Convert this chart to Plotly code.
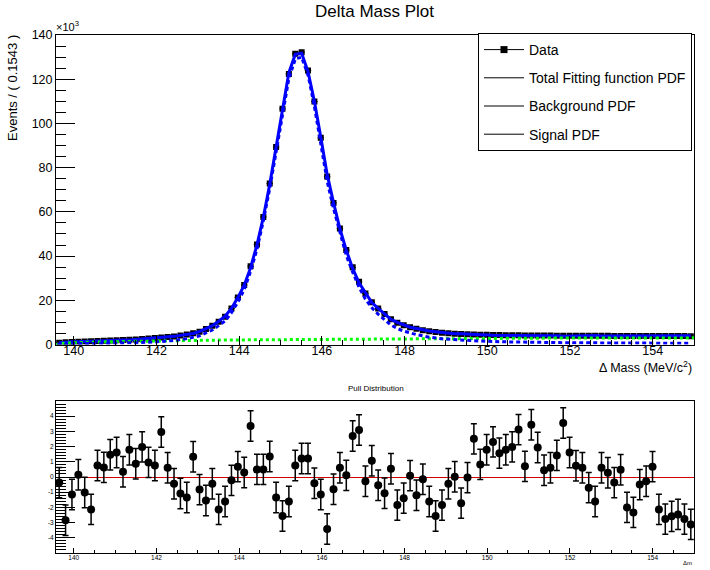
import numpy as np
import plotly.graph_objects as go

# ---------------- data ----------------
x_min, x_max = 139.57, 155.0
n_bins = 100

# events per bin (thousands)
counts_k = [
    0.80, 1.00, 1.15, 1.30, 1.40, 1.50, 1.60, 1.70, 1.80, 1.90,
    2.00, 2.15, 2.30, 2.50, 2.70, 2.90, 3.15, 3.40, 3.65, 4.05,
    4.50, 5.10, 5.80, 7.00, 8.50, 10.30, 12.60, 16.30, 21.30, 26.90,
    35.40, 45.20, 57.70, 72.80, 89.30, 106.60, 122.40, 131.50, 132.20, 123.90,
    109.90, 93.50, 76.00, 64.00, 52.50, 42.70, 34.90, 28.40, 23.10, 19.10,
    16.30, 13.80, 11.40, 9.80, 8.70, 7.80, 7.10, 6.50, 6.00, 5.60,
    5.30, 5.05, 4.85, 4.70, 4.60, 4.50, 4.42, 4.36, 4.30, 4.25,
    4.20, 4.16, 4.13, 4.10, 4.08, 4.06, 4.04, 4.02, 4.00, 3.98,
    3.97, 3.96, 3.95, 3.94, 3.93, 3.92, 3.91, 3.90, 3.89, 3.88,
    3.87, 3.86, 3.85, 3.84, 3.83, 3.82, 3.81, 3.80, 3.79, 3.78,
]

# pull per bin
pulls = [
    -0.37, -2.85, -1.15, 0.15, -1.02, -2.13, 0.76, 0.63, 1.46, 1.61,
    0.35, 1.79, 0.87, 1.98, 0.96, 0.76, 2.96, 0.61, -0.44, -1.09,
    -1.35, 1.33, -0.83, -1.55, -0.44, -2.13, -1.61, -0.22, 0.68, 0.30,
    3.36, 0.50, 0.50, 1.35, -1.35, -2.57, -1.61, 0.76, 1.22, 1.22,
    -0.41, -1.15, -3.42, -0.81, 0.61, 0.11, 2.70, 3.09, -0.28, 1.07,
    -0.54, -1.07, 0.54, -1.85, -1.39, 0.09, -1.20, -0.15, -1.61, -2.57,
    -1.85, -0.44, 0.02, -1.72, -0.04, 2.51, 0.83, 1.79, 2.31, 1.57,
    1.79, 1.98, 3.12, 0.70, 3.44, 1.94, 0.44, 0.61, 1.42, 3.55,
    1.61, 0.74, 0.61, -0.70, -1.61, 0.61, 0.28, -0.37, 0.48, -2.00,
    -2.33, -0.50, -0.28, 0.68, -2.13, -2.77, -2.59, -2.46, -2.77, -3.12,
]

# background PDF (thousands)
bkg_x = [139.57, 139.62, 139.70, 139.85, 140.0, 140.3, 140.7, 141.2, 141.8, 142.5,
         143.3, 144.2, 145.2, 146.3, 147.5, 148.7, 150.0, 151.5, 153.0, 155.0]
bkg_k = [0.0, 0.30, 0.50, 0.70, 0.85, 1.00, 1.20, 1.40, 1.60, 1.80,
         1.95, 2.10, 2.25, 2.40, 2.55, 2.70, 2.80, 2.90, 2.95, 3.00]

# signal PDF (thousands)
sig_x = [139.60, 139.80, 140.11, 140.5, 141.03, 141.5, 141.96, 142.42, 142.73, 143.04,
         143.35, 143.66, 143.81, 143.97, 144.12, 144.28, 144.43, 144.58, 144.74, 144.89,
         145.05, 145.20, 145.36, 145.51, 145.67, 145.82, 145.97, 146.13, 146.28, 146.44,
         146.59, 146.75, 146.90, 147.05, 147.21, 147.36, 147.52, 147.67, 147.83, 147.98,
         148.29, 148.60, 148.91, 149.37, 149.83, 150.45, 151.22, 151.99, 153.53, 154.92]
sig_k = [0.10, 0.35, 0.45, 0.50, 0.57, 0.80, 1.15, 1.80, 2.65, 3.90,
         6.55, 10.6, 14.3, 19.25, 24.8, 33.3, 43.05, 55.55, 70.6, 87.1,
         104.4, 120.15, 129.25, 129.95, 121.6, 107.6, 91.2, 73.65, 61.65, 50.1,
         40.3, 32.5, 25.95, 20.6, 16.6, 13.75, 11.25, 8.8, 7.2, 6.05,
         4.45, 3.3, 2.55, 1.9, 1.55, 1.2, 0.95, 0.8, 0.65, 0.55]

legend_names = ["Data", "Total Fitting function PDF", "Background PDF", "Signal PDF"]

# ---------------- derived ----------------
bin_width = (x_max - x_min) / n_bins
centers = x_min + bin_width * (np.arange(n_bins) + 0.5)
counts = np.array(counts_k) * 1000.0
errs = np.sqrt(counts)
total_fit = counts - np.array(pulls) * errs   # fit implied by data and pulls

FONT = "Liberation Sans, Arial, Helvetica, sans-serif"
BLUE = "#0000ff"
GREEN = "#00ff00"

W, H = 710, 570
ML, MR, MT, MB = 56, 16, 35, 17
PW, PH = W - ML - MR, H - MT - MB


def px(xp):
    return (xp - ML) / PW


def py(yp):
    return (H - MB - yp) / PH


fig = go.Figure()

# data points
fig.add_trace(go.Scatter(
    x=centers, y=counts / 1000.0, mode="markers",
    marker=dict(symbol="square", size=6, color="black"),
    error_x=dict(type="constant", value=bin_width / 2, color="black", thickness=1, width=0),
    error_y=dict(type="data", array=errs / 1000.0, color="black", thickness=1, width=0),
    showlegend=False, xaxis="x", yaxis="y"))

# total fit
fig.add_trace(go.Scatter(
    x=centers, y=total_fit / 1000.0, mode="lines",
    line=dict(color=BLUE, width=3), showlegend=False, xaxis="x", yaxis="y"))

# background
fig.add_trace(go.Scatter(
    x=bkg_x, y=bkg_k, mode="lines",
    line=dict(color=GREEN, width=3, dash="3px,3px"), showlegend=False, xaxis="x", yaxis="y"))

# signal
fig.add_trace(go.Scatter(
    x=sig_x, y=sig_k, mode="lines",
    line=dict(color=BLUE, width=3, dash="4px,3px"), showlegend=False, xaxis="x", yaxis="y"))

# legend entries (drawn black as in the reference)
for i, name in enumerate(legend_names):
    if i == 0:
        fig.add_trace(go.Scatter(
            x=[None], y=[None], mode="lines+markers", name=name,
            marker=dict(symbol="square", size=7, color="black"),
            line=dict(color="black", width=1), legendgroup=f"g{i}",
            xaxis="x", yaxis="y"))
    else:
        fig.add_trace(go.Scatter(
            x=[None], y=[None], mode="lines", name=name,
            line=dict(color="black", width=1), legendgroup=f"g{i}",
            xaxis="x", yaxis="y"))

# pull distribution
fig.add_trace(go.Scatter(
    x=centers, y=pulls, mode="markers",
    marker=dict(symbol="circle", size=8, color="black"),
    error_y=dict(type="constant", value=1.0, color="black", thickness=1.5, width=3),
    showlegend=False, xaxis="x2", yaxis="y2"))

main_bottom = py(344.5)
pull_top = py(401)

axis_common = dict(
    showline=True, mirror=True, linecolor="black", linewidth=1,
    showgrid=False, zeroline=False, ticks="inside", tickcolor="black",
    tickwidth=1, automargin=False,
)

fig.update_layout(
    width=W, height=H,
    margin=dict(l=ML, r=MR, t=MT, b=MB, pad=0),
    paper_bgcolor="white", plot_bgcolor="white",
    font=dict(family=FONT, color="black"),
    hovermode=False,
    xaxis=dict(domain=[0, 1], range=[x_min, x_max], anchor="y",
               tick0=140, dtick=2, ticklen=9, ticklabelstandoff=-6,
               minor=dict(dtick=0.5, tick0=140, ticklen=5, ticks="inside", tickcolor="black"),
               tickfont=dict(size=12.5, family=FONT, color="black"), **axis_common),
    yaxis=dict(domain=[main_bottom, 1], range=[0, 140], anchor="x",
               tick0=0, dtick=20, ticklen=19,
               minor=dict(dtick=5, ticklen=10, ticks="inside", tickcolor="black"),
               tickfont=dict(size=12.5, family=FONT, color="black"), **axis_common),
    xaxis2=dict(domain=[0, 1], range=[x_min, x_max], anchor="y2",
                tick0=140, dtick=2, ticklen=5, ticklabelstandoff=-2,
                minor=dict(dtick=0.5, tick0=140, ticklen=3, ticks="inside", tickcolor="black"),
                tickfont=dict(size=6.5, family=FONT, color="black"), **axis_common),
    yaxis2=dict(domain=[0, pull_top], range=[-5, 5], anchor="x2",
                tickvals=[-4, -3, -2, -1, 0, 1, 2, 3, 4],
                ticktext=["-4", "-3", "-2", "-1", "0", "1", "2", "3", "4"],
                ticklen=19,
                minor=dict(dtick=0.2, ticklen=10, ticks="inside", tickcolor="black"),
                tickfont=dict(size=6.5, family=FONT, color="black"),
                showline=True, mirror=True, linecolor="black", linewidth=1,
                showgrid=False, zeroline=True, zerolinecolor="#d00000", zerolinewidth=1,
                ticks="inside", tickcolor="black", tickwidth=1, automargin=False),
    legend=dict(x=px(692), y=py(33), xanchor="right", yanchor="top",
                bgcolor="white", bordercolor="black", borderwidth=1,
                font=dict(size=14, family=FONT, color="black"), tracegroupgap=7,
                itemwidth=40, traceorder="grouped"),
    annotations=[
        dict(text="Delta Mass Plot", x=px(374), y=py(11), xref="paper", yref="paper",
             xanchor="center", yanchor="middle", showarrow=False, font=dict(size=17, family=FONT)),
        dict(text="Events / ( 0.1543 )", x=px(12), y=py(33), xref="paper", yref="paper",
             xanchor="center", yanchor="top", textangle=-90, showarrow=False,
             font=dict(size=13, family=FONT)),
        dict(text="×10<sup>3</sup>", x=px(54), y=py(35), xref="paper", yref="paper",
             xanchor="left", yanchor="bottom", showarrow=False, font=dict(size=11, family=FONT)),
        dict(text="Δ Mass (MeV/c<sup>2</sup>)", x=px(694), y=py(367), xref="paper", yref="paper",
             xanchor="right", yanchor="middle", showarrow=False, font=dict(size=12.5, family=FONT)),
        dict(text="Pull Distribution", x=px(376), y=py(388), xref="paper", yref="paper",
             xanchor="center", yanchor="middle", showarrow=False,
             font=dict(size=8, family=FONT, color="black")),
        dict(text="Δm", x=px(694), y=py(563), xref="paper", yref="paper",
             xanchor="right", yanchor="middle", showarrow=False, font=dict(size=6, family=FONT)),
    ],
)

fig.write_html(
    "out.html",
    config={"displayModeBar": False, "staticPlot": True},
    post_script="document.body.style.margin='0';document.body.style.overflow='hidden';",
)
